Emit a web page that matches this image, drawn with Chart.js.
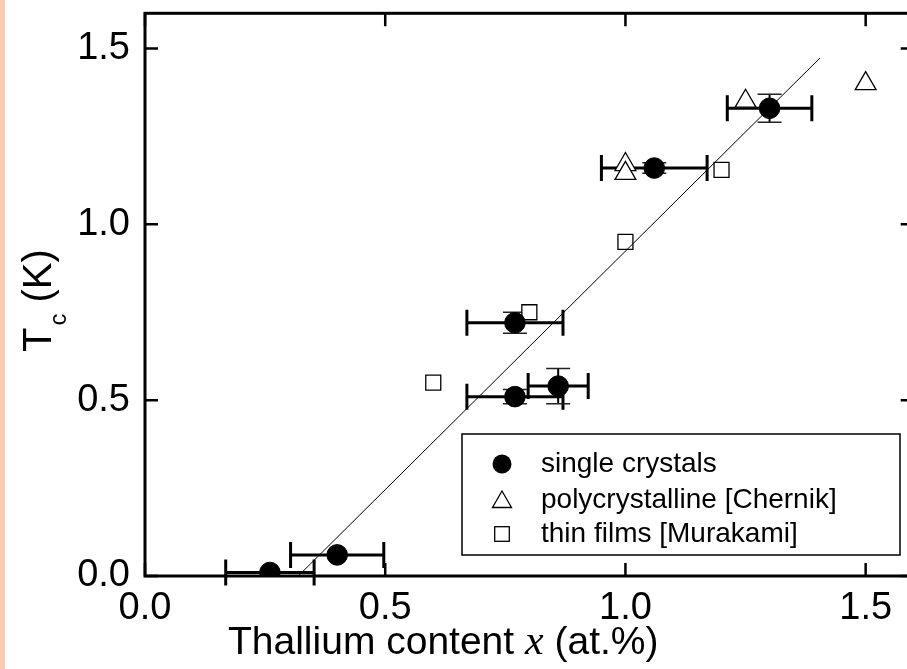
<!DOCTYPE html>
<html>
<head>
<meta charset="utf-8">
<script src="https://cdn.jsdelivr.net/npm/chart.js@4.4.0/dist/chart.umd.min.js"></script>
<style>
  html, body { margin: 0; padding: 0; background: #ffffff; overflow: hidden; width: 907px; height: 669px; }
  #wrap { position: absolute; left: 0; top: 0; width: 930px; height: 669px; }
  #strip { position: absolute; left: 0; top: 0; width: 5px; height: 669px; background: #FCCBAF; z-index: 2; }
</style>
</head>
<body>
<div id="wrap"><canvas id="c"></canvas></div>
<div id="strip"></div>
<script>
// Single crystals: thallium content x (at.%) and Tc (K) with uncertainties
const crystalX     = [0.26, 0.40, 0.77, 0.77, 0.86, 1.06, 1.30];
const crystalTc    = [0.01, 0.06, 0.72, 0.51, 0.54, 1.16, 1.33];
const crystalXErr  = [0.092, 0.097, 0.10, 0.10, 0.0625, 0.11, 0.088];
const crystalTcErr = [0, 0, 0.03, 0.02, 0.05, 0.015, 0.04];

// Polycrystalline samples [Chernik]
const polyX  = [1.0, 1.0, 1.25, 1.5];
const polyTc = [1.17, 1.145, 1.35, 1.40];

// Thin films [Murakami]
const filmX  = [0.6, 0.8, 1.0, 1.2];
const filmTc = [0.55, 0.75, 0.95, 1.155];

// Linear fit through the data (end points)
const fitX  = [0.319, 1.405];
const fitTc = [0.0, 1.473];

const seriesLabels = ['single crystals', 'polycrystalline [Chernik]', 'thin films [Murakami]'];
const majorTicks = [0.0, 0.5, 1.0, 1.5];

const SANS = '"Liberation Sans", Arial, Helvetica, sans-serif';
const SERIF = '"Liberation Serif", "Times New Roman", serif';

function pts(xs, ys) { return xs.map((x, i) => ({ x: x, y: ys[i] })); }
function isMajor(v) { return majorTicks.some(m => Math.abs(m - v) < 1e-6); }

// Error bars, frame with inward ticks, legend box and axis titles
const decorations = {
  id: 'decorations',
  beforeDatasetsDraw(chart) {
    const ctx = chart.ctx, xs = chart.scales.x, ys = chart.scales.y;
    ctx.save();
    ctx.strokeStyle = '#000';
    crystalX.forEach((x, i) => {
      const px = xs.getPixelForValue(x), py = ys.getPixelForValue(crystalTc[i]);
      // horizontal (composition) error bar
      const x0 = xs.getPixelForValue(x - crystalXErr[i]);
      const x1 = xs.getPixelForValue(x + crystalXErr[i]);
      ctx.lineWidth = 3;
      ctx.beginPath();
      ctx.moveTo(x0, py); ctx.lineTo(x1, py);
      ctx.moveTo(x0, py - 13); ctx.lineTo(x0, py + 13);
      ctx.moveTo(x1, py - 13); ctx.lineTo(x1, py + 13);
      ctx.stroke();
      // vertical (Tc) error bar
      if (crystalTcErr[i] > 0) {
        const y0 = ys.getPixelForValue(crystalTc[i] - crystalTcErr[i]);
        const y1 = ys.getPixelForValue(crystalTc[i] + crystalTcErr[i]);
        ctx.lineWidth = 2;
        ctx.beginPath();
        ctx.moveTo(px, y0); ctx.lineTo(px, y1);
        ctx.stroke();
        ctx.lineWidth = 1.5;
        ctx.strokeStyle = '#222';
        ctx.beginPath();
        ctx.moveTo(px - 12, y0); ctx.lineTo(px + 12, y0);
        ctx.moveTo(px - 12, y1); ctx.lineTo(px + 12, y1);
        ctx.stroke();
        ctx.strokeStyle = '#000';
      }
    });
    ctx.restore();
  },
  afterDatasetsDraw(chart) {
    const ctx = chart.ctx, xs = chart.scales.x, ys = chart.scales.y;
    const a = chart.chartArea;
    ctx.save();
    ctx.strokeStyle = '#000';
    ctx.lineCap = 'butt';

    // tick marks on all four sides, pointing inward
    ctx.lineWidth = 2.5;
    ctx.beginPath();
    xs.ticks.forEach(t => {
      const p = xs.getPixelForValue(t.value);
      const len = isMajor(t.value) ? 13 : 7;
      ctx.moveTo(p, a.bottom); ctx.lineTo(p, a.bottom - len);
      ctx.moveTo(p, a.top); ctx.lineTo(p, a.top + len);
    });
    ys.ticks.forEach(t => {
      const p = ys.getPixelForValue(t.value);
      const len = isMajor(t.value) ? 13 : 7;
      ctx.moveTo(a.left, p); ctx.lineTo(a.left + len, p);
      ctx.moveTo(a.right, p); ctx.lineTo(a.right - len, p);
    });
    ctx.stroke();

    // frame
    ctx.lineWidth = 3;
    ctx.strokeRect(a.left, a.top, a.right - a.left, a.bottom - a.top);

    // legend
    const lx = 462, ly = 434, lw = 438, lh = 121;
    ctx.fillStyle = '#fff';
    ctx.fillRect(lx, ly, lw, lh);
    ctx.lineWidth = 1.5;
    ctx.strokeRect(lx, ly, lw, lh);
    const rows = [464, 500, 534];
    const mx = 502, tx = 541;
    ctx.fillStyle = '#000';
    // filled circle
    ctx.beginPath(); ctx.arc(mx, rows[0], 9.5, 0, Math.PI * 2); ctx.fill();
    // open triangle
    ctx.lineWidth = 1.3;
    const r = 11;
    ctx.beginPath();
    for (let k = 0; k < 3; k++) {
      const ang = k * 2 * Math.PI / 3;
      const X = mx + Math.sin(ang) * r, Y = rows[1] + 2 - Math.cos(ang) * r;
      if (k === 0) ctx.moveTo(X, Y); else ctx.lineTo(X, Y);
    }
    ctx.closePath(); ctx.stroke();
    // open square
    ctx.strokeRect(mx - 7.3, rows[2] - 7.3, 14.6, 14.6);
    ctx.font = '28px ' + SANS;
    ctx.textBaseline = 'middle';
    ctx.textAlign = 'left';
    seriesLabels.forEach((s, i) => ctx.fillText(s, tx, rows[i]));

    // x-axis title
    ctx.textBaseline = 'alphabetic';
    let cx = 228;
    const by = 654;
    ctx.font = '39px ' + SANS;
    ctx.fillText('Thallium content ', cx, by);
    cx += ctx.measureText('Thallium content ').width;
    ctx.font = 'italic 42px ' + SERIF;
    ctx.fillText('x', cx, by);
    cx += ctx.measureText('x').width;
    ctx.font = '39px ' + SANS;
    ctx.fillText(' (at.%)', cx, by);

    // y-axis title, rotated
    ctx.translate(51, 352);
    ctx.rotate(-Math.PI / 2);
    ctx.font = '40px ' + SANS;
    ctx.fillText('T', 0, 0);
    let ox = ctx.measureText('T').width + 2;
    ctx.font = '24px ' + SANS;
    ctx.fillText('c', ox, 15);
    ox += ctx.measureText('c').width;
    ctx.font = '40px ' + SANS;
    ctx.fillText(' (K)', ox, 0);
    ctx.restore();
  }
};

const tickFont = { family: SANS, size: 38 };
const tickLabel = v => (isMajor(v) ? Number(v).toFixed(1) : null);
function noPad(s) { s.paddingTop = 0; s.paddingBottom = 0; s.paddingLeft = 0; s.paddingRight = 0; }

new Chart(document.getElementById('c'), {
  type: 'scatter',
  data: {
    datasets: [
      {
        label: 'fit', type: 'line', data: pts(fitX, fitTc),
        borderColor: '#000', borderWidth: 1, pointRadius: 0, fill: false, clip: 0, order: 0
      },
      {
        label: seriesLabels[0], data: pts(crystalX, crystalTc),
        pointStyle: 'circle', pointRadius: 10.3, borderWidth: 1,
        backgroundColor: '#000', borderColor: '#000', clip: 0, order: 1
      },
      {
        label: seriesLabels[1], data: pts(polyX, polyTc),
        pointStyle: 'triangle', pointRadius: 12, borderWidth: 1.3,
        backgroundColor: '#fff', borderColor: '#000', clip: 0, order: 2
      },
      {
        label: seriesLabels[2], data: pts(filmX, filmTc),
        pointStyle: 'rect', pointRadius: 10.6, borderWidth: 1.3,
        backgroundColor: '#fff', borderColor: '#000', clip: 0, order: 3
      }
    ]
  },
  options: {
    responsive: true,
    maintainAspectRatio: false,
    devicePixelRatio: 1,
    animation: false,
    events: [],
    layout: { padding: { left: 0, top: 9.5, right: 16.3, bottom: 0 } },
    plugins: { legend: { display: false }, tooltip: { enabled: false } },
    scales: {
      x: {
        type: 'linear', min: 0, max: 1.6,
        grid: { display: false, drawTicks: false },
        border: { display: false },
        ticks: { stepSize: 0.1, autoSkip: false, maxRotation: 0, color: '#000', font: tickFont, padding: 10, callback: tickLabel },
        afterFit: s => { s.height = 93; noPad(s); }
      },
      y: {
        type: 'linear', min: 0, max: 1.6,
        grid: { display: false, drawTicks: false },
        border: { display: false },
        ticks: { stepSize: 0.1, autoSkip: false, color: '#000', font: tickFont, padding: 15, callback: tickLabel },
        afterFit: s => { s.width = 145; noPad(s); }
      }
    }
  },
  plugins: [decorations]
});
</script>
</body>
</html>
